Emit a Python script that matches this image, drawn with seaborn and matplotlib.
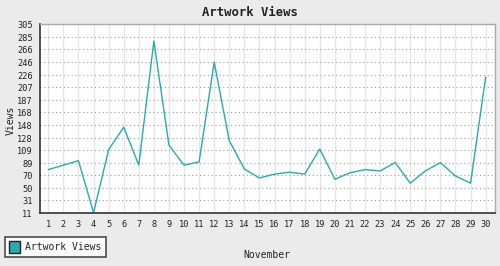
import matplotlib
matplotlib.use("Agg")
import matplotlib.pyplot as plt
import seaborn as sns
import pandas as pd
from matplotlib.patches import Patch

days = list(range(1, 31))
views = [79, 86, 93, 12, 110, 145, 86, 279, 117, 86, 91, 246, 124, 80, 66,
         72, 75, 72, 111, 64, 74, 79, 77, 90, 58, 77, 90, 69, 58, 223]
y_ticks = [11, 31, 50, 70, 89, 109, 128, 148, 168, 187, 207, 226, 246, 266, 285, 305]
series_name = "Artwork Views"
title = "Artwork Views"
x_label = "November"
y_label = "Views"

df = pd.DataFrame({"day": days, "views": views})

sns.set_style("white")
plt.rcParams['font.family'] = ['DejaVu Sans Mono']

color = "#2aaaaa"
fig = plt.figure(figsize=(5.0, 2.66), dpi=100, facecolor="#ebebeb")
ax = fig.add_axes([0.0794, 0.198, 0.9906 - 0.0794, 0.9086 - 0.198])
ax.set_facecolor("white")

sns.lineplot(data=df, x="day", y="views", ax=ax, color=color, linewidth=1.0, legend=False)

ax.set_xlim(0.43, 30.64)
ax.set_ylim(11, 305)
ax.set_xticks(days)
ax.set_xticklabels([str(d) for d in days], fontsize=6.2)
ax.set_yticks(y_ticks)
ax.set_yticklabels([str(t) for t in y_ticks], fontsize=6.2)
ax.tick_params(axis="both", length=3, width=1, color="#333333", pad=2, labelcolor="#222222")
ax.tick_params(axis="x", direction="out")
ax.tick_params(axis="y", direction="out")

for t in days:
    ax.axvline(t, color="#e6e6e6", linewidth=1.0, zorder=0)
for t in y_ticks[1:-1]:
    ax.axhline(t, color="#999999", linewidth=0.8, linestyle=(0, (1, 2.5)), zorder=0.5)

for side in ["left", "bottom"]:
    ax.spines[side].set_color("#333333")
    ax.spines[side].set_linewidth(1.2)
for side in ["top", "right"]:
    ax.spines[side].set_color("#aaaaaa")
    ax.spines[side].set_linewidth(1.0)

ax.set_xlabel("")
ax.set_ylabel("")
fig.text(0.5, 1 - 12 / 266, title, ha="center", va="center", fontsize=8.8, fontweight="bold", color="#222222")
fig.text(0.534, 1 - 255 / 266, x_label, ha="center", va="center", fontsize=7, color="#222222")
fig.text(11 / 500, 1 - 120 / 266, y_label, ha="center", va="center", rotation=90, fontsize=7, color="#222222")

handle = Patch(facecolor=color, edgecolor="#222222", linewidth=1.0)
leg = fig.legend([handle], [series_name], loc="lower left", bbox_to_anchor=(5 / 500, 1 - 257 / 266),
                 fontsize=7, frameon=True, fancybox=False, handlelength=1.1, handleheight=1.4,
                 handletextpad=0.5, borderpad=0.45, borderaxespad=0)
leg.get_frame().set_edgecolor("#222222")
leg.get_frame().set_linewidth(1.2)
leg.get_frame().set_facecolor("white")

fig.savefig("out.png", dpi=100, facecolor=fig.get_facecolor())
